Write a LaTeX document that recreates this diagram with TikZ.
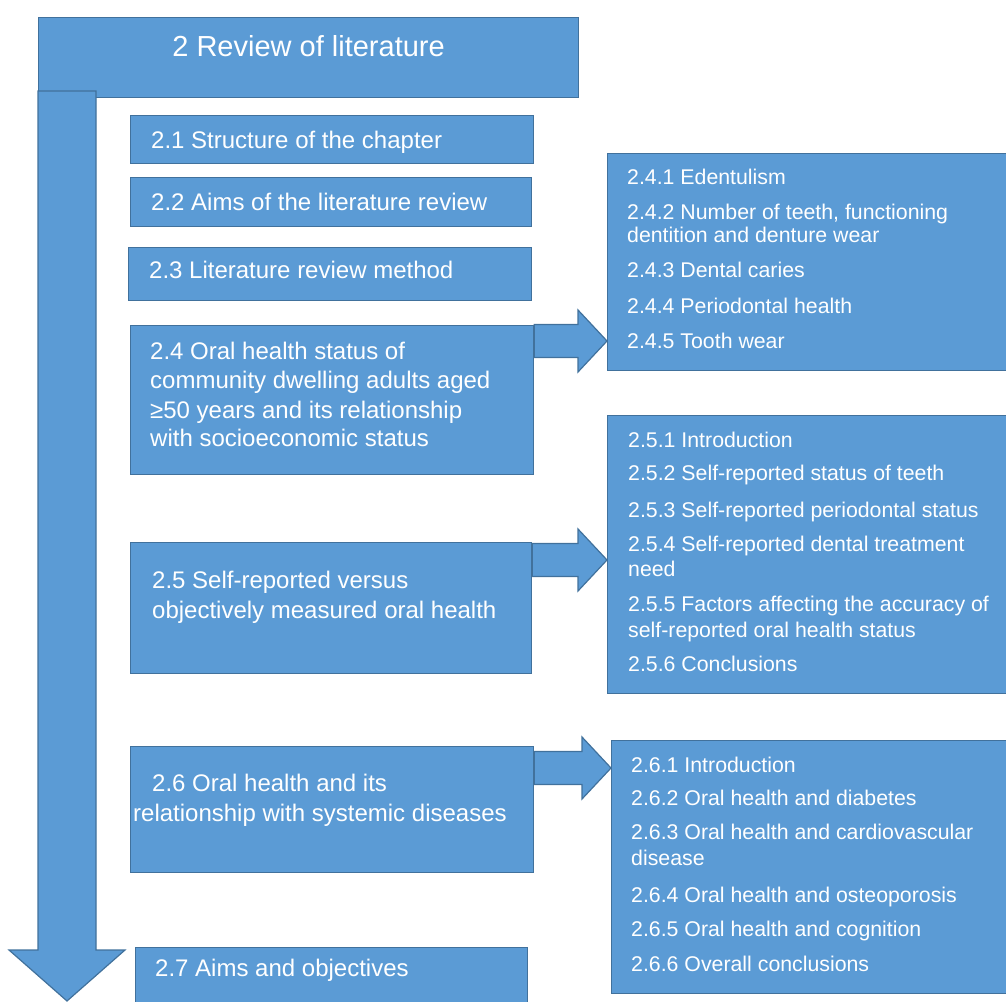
\documentclass[tikz,border=0pt]{standalone}
\usepackage{fontspec}
\setmainfont{Liberation Sans}
\usetikzlibrary{positioning, calc}
\definecolor{boxblue}{RGB}{91,155,213}
\definecolor{boxline}{RGB}{65,113,156}
\newcommand{\MainFont}{\fontsize{24}{29}\selectfont}
\newcommand{\SubFont}{\fontsize{21.3}{25}\selectfont}

\tikzset{
  boxfill/.style={draw=boxline, fill=boxblue, line width=1.2pt},
  section/.style={boxfill, anchor=north west, inner sep=0pt},
  linetext/.style={anchor=base west, inner sep=0pt, text=white},
}

\begin{document}
\begin{tikzpicture}[x=1pt, y=-1pt]
    \useasboundingbox (0,0) rectangle (1006,1001);

    % draw title bar and the long arrow down
    \node[section, minimum width=540, minimum height=80] (review) at (38,17) {};
    \draw[boxfill] (38,91) -- (96,91) -- (96,950) -- (125,950) -- (67,1001)
        -- (9,950) -- (38,950) -- cycle;
    \node[anchor=base, inner sep=0pt, text=white, font=\fontsize{29}{34}\selectfont]
        (title) at (review.north |- 0,56) {2 Review of literature};

    % draw section boxes
    \foreach \name/\x/\y/\w/\h in
        {b21/130/115/403/48, b22/130/177/401/49, b23/128/247/403/53,
         b24/130/325/403/149, b25/130/542/401/131, b26/130/746/403/126,
         b27/135/947/392/70}
    \node[section, minimum width=\w, minimum height=\h] (\name) at (\x,\y) {};

    % draw subsection boxes
    \foreach \name/\x/\y/\w/\h in
        {s24/607/153/405/217, s25/607/415/405/278, s26/611/740/401/253}
    \node[section, minimum width=\w, minimum height=\h] (\name) at (\x,\y) {};

    % section texts
    \foreach \x/\y/\descr [count=\i] in
        {151/148/2.1 Structure of the chapter,
         151/210/2.2 Aims of the literature review,
         149/278/2.3 Literature review method,
         150/359/2.4 Oral health status of,
         150/388/community dwelling adults aged,
         150/418/≥50 years and its relationship,
         150/446/with socioeconomic status,
         152/588/2.5 Self-reported versus,
         152/618/objectively measured oral health,
         152/791/2.6 Oral health and its,
         133/821/relationship with systemic diseases,
         155/976/2.7 Aims and objectives}
    \node[linetext, font=\MainFont] (t\i) at (\x,\y) {\descr};

    % subsection texts
    \foreach \x/\y/\descr [count=\i] in
        {627/184/2.4.1 Edentulism,
         627/219/{2.4.2 Number of teeth, functioning},
         627/242/dentition and denture wear,
         627/277/2.4.3 Dental caries,
         627/313/2.4.4 Periodontal health,
         627/348/2.4.5 Tooth wear,
         628/447/2.5.1 Introduction,
         628/480/2.5.2 Self-reported status of teeth,
         628/517/2.5.3 Self-reported periodontal status,
         628/551/2.5.4 Self-reported dental treatment,
         628/576/need,
         628/611/2.5.5 Factors affecting the accuracy of,
         628/637/self-reported oral health status,
         628/671/2.5.6 Conclusions,
         631/772/2.6.1 Introduction,
         631/805/2.6.2 Oral health and diabetes,
         631/839/2.6.3 Oral health and cardiovascular,
         631/865/disease,
         631/902/2.6.4 Oral health and osteoporosis,
         631/936/2.6.5 Oral health and cognition,
         631/971/2.6.6 Overall conclusions}
    \node[linetext, font=\SubFont] (u\i) at (\x,\y) {\descr};

    % block arrows from sections to subsections
    \foreach \from/\to/\y in {b24/s24/341, b25/s25/560, b26/s26/768}
    \draw[boxfill] (\to.west |- 0,\y) -- ++(-29,-31) -- ++(0,14.5)
        -| ($(\from.east |- 0,\y)+(0,16.5)$)
        -| ($(\to.west |- 0,\y)+(-29,31)$) -- cycle;

\end{tikzpicture}
\end{document}
